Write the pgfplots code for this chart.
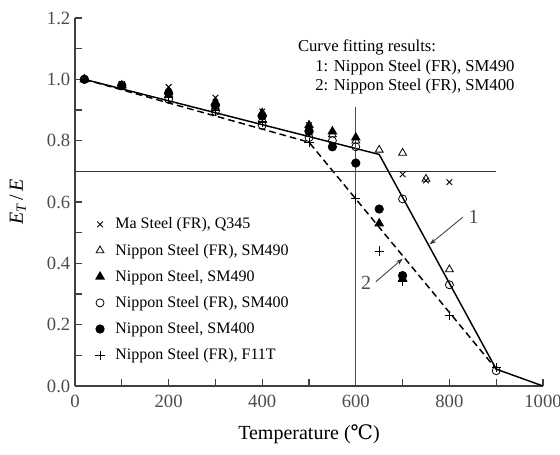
\documentclass[border=0pt]{standalone}
\usepackage{fontspec}
\setmainfont{Liberation Serif}
\newfontfamily\dejavu{DejaVu Serif}
\usepackage{pgfplots}
\pgfplotsset{compat=1.18}
\usetikzlibrary{arrows.meta}
\begin{document}
\begin{tikzpicture}
\begin{axis}[name=ax,
  scale only axis, width=351pt, height=276pt,
  xmin=0, xmax=1000, ymin=0, ymax=1.2,
  axis lines=left, axis line style={-, black!75, line width=0.8pt},
  tick style={black!75, line width=0.8pt}, tick align=inside,
  major tick length=5pt, minor tick length=5pt,
  xtick={0,200,...,1000}, minor xtick={100,300,...,900},
  ytick={0,0.2,...,1.2}, minor ytick={0.1,0.3,...,1.1},
  /pgf/number format/assume math mode=true,
  xticklabel={\pgfmathprintnumber[1000 sep={}]{\tick}},
  yticklabel={\pgfmathprintnumber[fixed, fixed zerofill, precision=1]{\tick}},
  xticklabel style={yshift=-3pt},
  ticklabel style={font=\rmfamily\fontsize{14}{14}\selectfont, text=black!70},
  xlabel={Temperature ({\dejavu ℃})},
  ylabel={\textit{E}\textsubscript{\textit{T}}\,/\,\textit{E}},
  label style={font=\rmfamily\fontsize{15}{15}\selectfont},
  xlabel style={yshift=-6pt},
  ylabel style={yshift=9pt},
  clip=false,
  legend style={draw=none, fill=none, at={(0.043,0.465)}, anchor=north west,
    font=\fontsize{12}{12}\selectfont, row sep=5.8pt, column sep=6pt, inner sep=0pt},
  legend image code/.code={\draw[#1] plot coordinates {(0cm,0cm)};},
  legend cell align=left,
  every axis plot/.append style={line width=0.9pt},
]
\addplot[only marks, mark=x, mark size=3pt, line width=0.7pt] coordinates {
 (20,1.0) (100,0.985) (200,0.975) (300,0.94) (400,0.895) (500,0.85) (700,0.69) (750,0.67) (800,0.665)};
\addlegendentry{Ma Steel (FR), Q345}
\addplot[only marks, mark=triangle, mark size=3.4pt, line width=0.6pt] coordinates {
 (20,1.0) (100,0.98) (200,0.95) (300,0.91) (400,0.87) (500,0.84) (550,0.82) (600,0.80) (650,0.77) (700,0.76) (750,0.675) (800,0.38)};
\addlegendentry{Nippon Steel (FR), SM490}
\addplot[only marks, mark=triangle*, mark size=3.4pt] coordinates {
 (20,1.0) (100,0.98) (200,0.96) (300,0.925) (400,0.89) (500,0.85) (550,0.83) (600,0.81) (650,0.53) (700,0.35)};
\addlegendentry{Nippon Steel, SM490}
\addplot[only marks, mark=o, mark size=3pt, line width=0.6pt] coordinates {
 (20,1.0) (100,0.98) (200,0.935) (300,0.895) (400,0.85) (500,0.81) (550,0.80) (600,0.78) (700,0.61) (800,0.33) (900,0.05)};
\addlegendentry{Nippon Steel (FR), SM400}
\addplot[only marks, mark=*, mark size=3pt] coordinates {
 (20,1.0) (100,0.98) (200,0.955) (300,0.915) (400,0.88) (500,0.83) (550,0.78) (600,0.727) (650,0.577) (700,0.36)};
\addlegendentry{Nippon Steel, SM400}
\addplot[only marks, mark=+, mark size=3.5pt, line width=0.7pt] coordinates {
 (20,1.0) (100,0.98) (200,0.94) (300,0.90) (400,0.86) (500,0.795) (600,0.61) (650,0.44) (700,0.34) (800,0.23) (900,0.06)};
\addlegendentry{Nippon Steel (FR), F11T}
% fitted curves
\addplot[black, line width=1.1pt, forget plot] coordinates {(20,1.0) (650,0.755) (900,0.055) (1000,0)};
\addplot[black, line width=1.1pt, dashed, dash pattern=on 5pt off 3pt, forget plot] coordinates {(20,1.0) (500,0.795) (900,0.055)};
% reference lines
\addplot[black!80, line width=1.2pt, forget plot] coordinates {(0,0.7) (900,0.7)};
\addplot[black!70, line width=1pt, forget plot] coordinates {(600,0) (600,0.91)};
% annotations
\draw[black!80, line width=0.6pt, -{Stealth[length=5pt,width=3.5pt]}] (axis cs:829,0.551) -- (axis cs:758,0.462);
\node[font=\fontsize{15}{15}\selectfont, text=black!70] at (axis cs:852,0.553) {1};
\draw[black!80, line width=0.6pt, -{Stealth[length=5pt,width=3.5pt]}] (axis cs:643,0.34) -- (axis cs:700,0.415);
\node[font=\fontsize{15}{15}\selectfont, text=black!70] at (axis cs:622,0.335) {2};
\node[anchor=north west, align=left, font=\fontsize{12.5}{14.8}\selectfont, inner sep=0pt] at (axis cs:476,1.13)
 {Curve fitting results:\\\hspace*{13pt}1: Nippon Steel (FR), SM490\\\hspace*{13pt}2: Nippon Steel (FR), SM400};
\end{axis}
\pgfresetboundingbox
\path[use as bounding box] ([shift={(-56.25pt,-51pt)}]ax.south west) rectangle ([shift={(363.75pt,289.5pt)}]ax.south west);
\end{tikzpicture}
\end{document}
